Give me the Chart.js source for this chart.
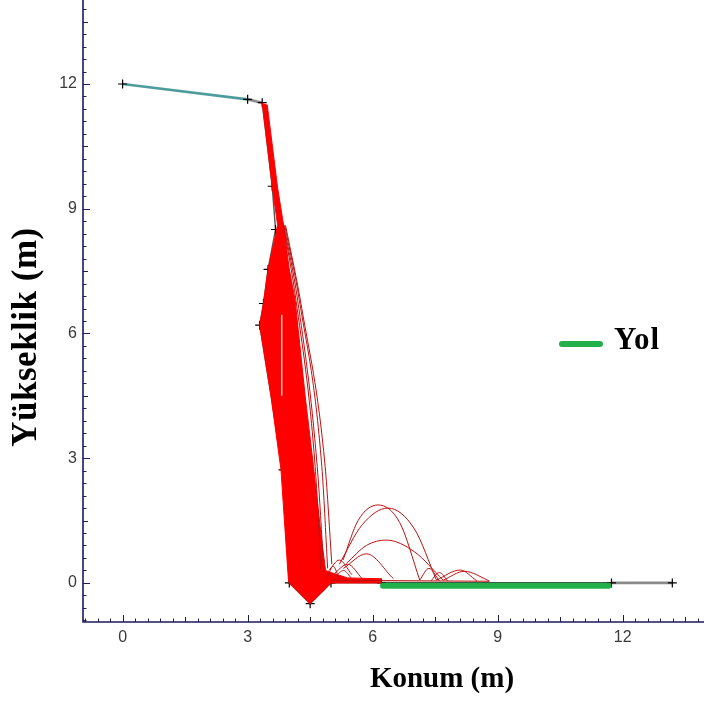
<!DOCTYPE html>
<html>
<head>
<meta charset="utf-8">
<script src="https://cdn.jsdelivr.net/npm/chart.js@4/dist/chart.umd.min.js"></script>
<style>
  html, body { margin: 0; padding: 0; background: #ffffff; }
  canvas { display: block; }
</style>
</head>
<body>
<canvas id="c" width="704" height="702"></canvas>
<script>
// Slope profile vertices (m): upper bench, cliff face, ditch, road, shoulder
const profileX = [0, 3.0, 3.35, 3.59, 3.67, 3.49, 3.38, 3.29, 3.85, 4.0, 4.5, 5.0, 6.21, 11.73, 13.19];
const profileY = [12.0, 11.63, 11.55, 9.54, 8.5, 7.54, 6.72, 6.2, 2.72, 0, -0.5, 0, 0, 0, 0];

// Envelope of the dense bundle of falling-rock paths (incl. the ditch)
const bundleX = [3.35, 3.59, 3.72, 3.49, 3.38, 3.29, 3.56, 3.8, 3.98, 4.0, 4.5, 5.0, 6.2, 6.2, 5.4, 5.0,
                 4.87, 4.78, 4.58, 4.38, 4.14, 3.99, 3.88, 3.72, 3.47];
const bundleY = [11.55, 9.54, 8.6, 7.54, 6.72, 6.2, 4.5, 2.72, 0.05, 0, -0.5, 0, 0, 0.1, 0.12, 0.25,
                 0.3, 1.0, 2.8, 4.5, 6.8, 7.6, 8.5, 9.5, 11.5];

// Individual paths separating from the bundle on the way down
const fallX = [
  [3.86, 4.16, 4.62, 4.76],
  [3.87, 4.2, 4.67, 4.83],
  [3.89, 4.24, 4.78, 4.92],
  [3.91, 4.3, 4.86, 5.02]
];
const fallY = [
  [8.6, 6.8, 2.8, 0.3],
  [8.6, 6.8, 2.8, 0.3],
  [8.6, 6.8, 2.8, 0.35],
  [8.6, 6.6, 2.8, 0.45]
];

// Bounce arcs after impact (start ... apex ... landing)
const bounceX = [
  [5.29, 5.65, 6.13, 6.65, 7.13],
  [5.2, 5.75, 6.37, 7.0, 7.53],
  [5.37, 5.85, 6.33, 7.0, 7.69],
  [5.3, 5.85, 6.5],
  [7.13, 7.35, 7.6],
  [7.53, 8.1, 8.5],
  [7.7, 8.2, 8.8],
  [7.4, 7.6, 7.8],
  [4.95, 5.2, 5.5],
  [5.05, 5.4, 5.75],
  [5.1, 5.3, 5.5],
  [4.9, 5.05, 5.2]
];
const bounceY = [
  [0.55, 1.5, 1.875, 1.45, 0.07],
  [0.45, 1.4, 1.8, 1.3, 0.07],
  [0.47, 0.9, 1.03, 0.75, 0.07],
  [0.35, 0.7, 0.1],
  [0.07, 0.35, 0.05],
  [0.07, 0.31, 0.05],
  [0.07, 0.28, 0.05],
  [0.05, 0.25, 0.05],
  [0.3, 0.55, 0.2],
  [0.2, 0.45, 0.1],
  [0.15, 0.3, 0.1],
  [0.1, 0.4, 0.1]
];

// Rolling along the ground
const rollX = [5.0, 8.8];
const rollY = [0.06, 0.04];

// Small gap inside the bundle
const gapX = [3.82, 3.82];
const gapY = [6.45, 4.5];

// Road ("Yol")
const roadX = [6.25, 11.66];
const roadY = [-0.07, -0.07];

// Axis ticks
const xTickValues = [0, 3, 6, 9, 12];
const yTickValues = [0, 3, 6, 9, 12];

const axisColor = '#1c1c5c';
const pathRed = '#bb1111';

function pts(xs, ys) { return xs.map((x, i) => ({ x: x, y: ys[i] })); }

function profileColor(i) {
  if (i === 0) return '#4f9c9c';
  if (i === 1) return '#8a8a8a';
  if (i === 12) return '#000000';
  if (i === 13) return '#8a8a8a';
  return '#555555';
}
function profileWidth(i) {
  if (i === 0 || i === 1 || i === 13) return 2.6;
  return 1.4;
}

const datasets = [];

datasets.push({
  data: pts(roadX, roadY), showLine: true, borderColor: '#22b04b', borderWidth: 6,
  borderCapStyle: 'round', pointRadius: 0, order: 0
});
datasets.push({
  data: pts(gapX, gapY), showLine: true, borderColor: '#ffe8e8', borderWidth: 1.2,
  pointRadius: 0, order: 1
});
fallX.forEach((xs, k) => datasets.push({
  data: pts(xs, fallY[k]), showLine: true, borderColor: pathRed, borderWidth: 1,
  cubicInterpolationMode: 'monotone', pointRadius: 0, order: 2
}));
bounceX.forEach((xs, k) => datasets.push({
  data: pts(xs, bounceY[k]), showLine: true, borderColor: pathRed, borderWidth: 1,
  cubicInterpolationMode: 'monotone', pointRadius: 0, order: 2
}));
datasets.push({
  data: pts(rollX, rollY), showLine: true, borderColor: pathRed, borderWidth: 1.2,
  pointRadius: 0, order: 2
});
datasets.push({
  data: pts(bundleX, bundleY), showLine: true, borderColor: '#ff0000', borderWidth: 1,
  backgroundColor: '#ff0000', fill: 'shape', pointRadius: 0, order: 3
});
datasets.push({
  data: pts(profileX, profileY), showLine: false, pointStyle: 'cross', pointRadius: 4.5,
  borderColor: '#000000', borderWidth: 1.2, order: 5
});
datasets.push({
  data: pts(profileX, profileY), showLine: true, pointRadius: 0, borderWidth: 1.4,
  borderColor: '#000000',
  segment: {
    borderColor: ctx => profileColor(ctx.p0DataIndex),
    borderWidth: ctx => profileWidth(ctx.p0DataIndex)
  },
  order: 6
});

// Inward major/minor ticks, axis lines, axis titles and legend
const framePlugin = {
  id: 'frame',
  afterDraw(chart) {
    const { ctx, chartArea: a, scales: { x, y } } = chart;
    ctx.save();
    ctx.strokeStyle = axisColor;
    ctx.lineWidth = 1;
    ctx.beginPath();
    for (let i = Math.ceil(x.min / 0.3); i * 0.3 <= x.max + 1e-9; i++) {
      const px = Math.round(x.getPixelForValue(i * 0.3)) + 0.5;
      const len = i % 10 === 0 ? 7 : (i % 5 === 0 ? 5 : 3.5);
      ctx.moveTo(px, a.bottom); ctx.lineTo(px, a.bottom - len);
    }
    for (let i = Math.ceil(y.min / 0.3); i * 0.3 <= y.max + 1e-9; i++) {
      const py = Math.round(y.getPixelForValue(i * 0.3)) + 0.5;
      const len = i % 10 === 0 ? 7 : (i % 5 === 0 ? 5 : 3.5);
      ctx.moveTo(a.left, py); ctx.lineTo(a.left + len, py);
    }
    ctx.stroke();
    ctx.lineWidth = 1.6;
    ctx.beginPath();
    ctx.moveTo(a.left, a.top); ctx.lineTo(a.left, a.bottom); ctx.lineTo(a.right, a.bottom);
    ctx.stroke();

    // axis titles
    ctx.fillStyle = '#000000';
    ctx.textAlign = 'center';
    ctx.textBaseline = 'middle';
    ctx.font = 'bold 29px "Liberation Serif", "Times New Roman", serif';
    ctx.fillText('Konum (m)', 442, 680);
    ctx.save();
    ctx.translate(27, 337);
    ctx.rotate(-Math.PI / 2);
    ctx.font = 'bold 35px "Liberation Serif", "Times New Roman", serif';
    ctx.letterSpacing = '0.5px';
    ctx.fillText('Yükseklik (m)', 0, 0);
    ctx.restore();

    // legend
    ctx.strokeStyle = '#22b04b';
    ctx.lineWidth = 6;
    ctx.lineCap = 'round';
    ctx.beginPath();
    ctx.moveTo(562, 344); ctx.lineTo(600, 344);
    ctx.stroke();
    ctx.textAlign = 'left';
    ctx.font = 'bold 31px "Liberation Serif", "Times New Roman", serif';
    ctx.letterSpacing = '1px';
    ctx.fillText('Yol', 614, 341);
    ctx.restore();
  }
};

new Chart(document.getElementById('c'), {
  type: 'scatter',
  data: { datasets: datasets },
  options: {
    responsive: false,
    animation: false,
    events: [],
    layout: { padding: 0, autoPadding: false },
    plugins: { legend: { display: false }, tooltip: { enabled: false } },
    scales: {
      x: {
        type: 'linear', position: 'bottom', min: -0.95, max: 13.95,
        grid: { display: false, drawTicks: false },
        border: { display: false },
        ticks: { padding: 6, color: '#3a3a3a', font: { family: '"Liberation Sans", Arial, sans-serif', size: 16 } },
        afterBuildTicks: s => { s.ticks = xTickValues.map(v => ({ value: v })); },
        afterFit: s => { s.height = 80; s.paddingLeft = 0; s.paddingRight = 0; }
      },
      y: {
        type: 'linear', position: 'left', min: -0.94, max: 14.02,
        grid: { display: false, drawTicks: false },
        border: { display: false },
        ticks: { padding: 6, color: '#3a3a3a', font: { family: '"Liberation Sans", Arial, sans-serif', size: 16 } },
        afterBuildTicks: s => { s.ticks = yTickValues.map(v => ({ value: v })); },
        afterFit: s => { s.width = 83; s.paddingTop = 0; s.paddingBottom = 0; }
      }
    }
  },
  plugins: [framePlugin]
});
</script>
</body>
</html>
